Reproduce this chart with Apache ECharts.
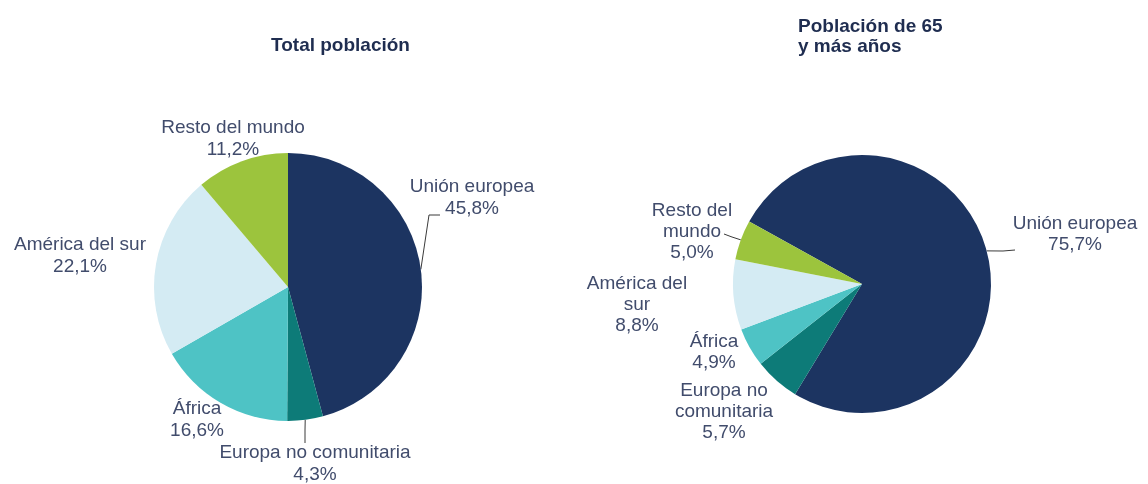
<!DOCTYPE html>
<html>
<head>
<meta charset="utf-8">
<script src="https://cdn.jsdelivr.net/npm/echarts@6/dist/echarts.min.js"></script>
<style>
  html, body { margin: 0; padding: 0; background: #fff; }
  #chart { width: 1148px; height: 484px; }
</style>
</head>
<body>
<div id="chart"></div>
<script>
  const categories = ["Unión europea", "Europa no comunitaria", "África", "América del sur", "Resto del mundo"];
  const totalValues = [45.8, 4.3, 16.6, 22.1, 11.2];
  const seniorValues = [75.7, 5.7, 4.9, 8.8, 5.0];
  const totalLabels = ["Unión europea", "Europa no comunitaria", "África", "América del sur", "Resto del mundo"];
  const seniorLabels = ["Unión europea", "Europa no\ncomunitaria", "África", "América del\nsur", "Resto del\nmundo"];
  const titles = ["Total población", "Población de 65\ny más años"];

  const colors = ["#1c3461", "#0d7b78", "#4ec3c5", "#d4ebf3", "#9cc43d"];
  const textColor = "#414c6c";
  const font = "'Liberation Sans', Arial, sans-serif";

  // label anchors (centre of each text block)
  const totalPos = [[472, 198], [315, 464], [197, 420], [80, 256], [233, 139]];
  const seniorPos = [[1075, 234], [724, 412], [714, 352], [637, 305], [692, 232]];
  // leader line bends, the first point comes from the pie edge
  const totalLines = { 0: [[429, 215], [440, 215]], 1: [[305, 430], [305, 443]] };
  const seniorLines = { 0: [[1003, 251], [1015, 250]], 4: [[732, 237], [724, 234]] };

  function pct(v) {
    return v.toFixed(1).replace(".", ",") + "%";
  }

  function buildData(values, labels, lines) {
    return values.map((v, i) => ({
      name: categories[i],
      value: v,
      label: { formatter: labels[i] + "\n" + pct(v) },
      labelLine: { show: !!lines[i] }
    }));
  }

  function layoutFor(pos, lines) {
    return (params) => {
      const p = pos[params.dataIndex];
      const out = { x: p[0], y: p[1], align: "center", verticalAlign: "middle" };
      const bend = lines[params.dataIndex];
      if (bend && params.labelLinePoints) {
        out.labelLinePoints = [params.labelLinePoints[0], bend[0], bend[1]];
      }
      return out;
    };
  }

  const chart = echarts.init(document.getElementById("chart"));
  chart.setOption({
    animation: false,
    color: colors,
    title: [
      { text: titles[0], left: 266, top: 31, textStyle: { fontFamily: font, fontSize: 19, fontWeight: "bold", color: "#1f2d50" } },
      { text: titles[1], left: 793, top: 12, textStyle: { fontFamily: font, fontSize: 19, fontWeight: "bold", color: "#1f2d50", lineHeight: 20 } }
    ],
    series: [
      {
        type: "pie",
        center: [288, 287],
        radius: 134,
        startAngle: 90,
        clockwise: true,
        avoidLabelOverlap: false,
        label: { show: true, color: textColor, fontFamily: font, fontSize: 19, lineHeight: 22 },
        labelLine: { lineStyle: { color: "#3a3a3a", width: 1 }, length: 10, length2: 10 },
        labelLayout: layoutFor(totalPos, totalLines),
        itemStyle: { borderWidth: 0 },
        emphasis: { disabled: true },
        data: buildData(totalValues, totalLabels, totalLines)
      },
      {
        type: "pie",
        center: [862, 284],
        radius: 129,
        startAngle: 151,
        clockwise: true,
        avoidLabelOverlap: false,
        label: { show: true, color: textColor, fontFamily: font, fontSize: 19, lineHeight: 21 },
        labelLine: { lineStyle: { color: "#3a3a3a", width: 1 }, length: 10, length2: 10 },
        labelLayout: layoutFor(seniorPos, seniorLines),
        itemStyle: { borderWidth: 0 },
        emphasis: { disabled: true },
        data: buildData(seniorValues, seniorLabels, seniorLines)
      }
    ]
  });
</script>
</body>
</html>
